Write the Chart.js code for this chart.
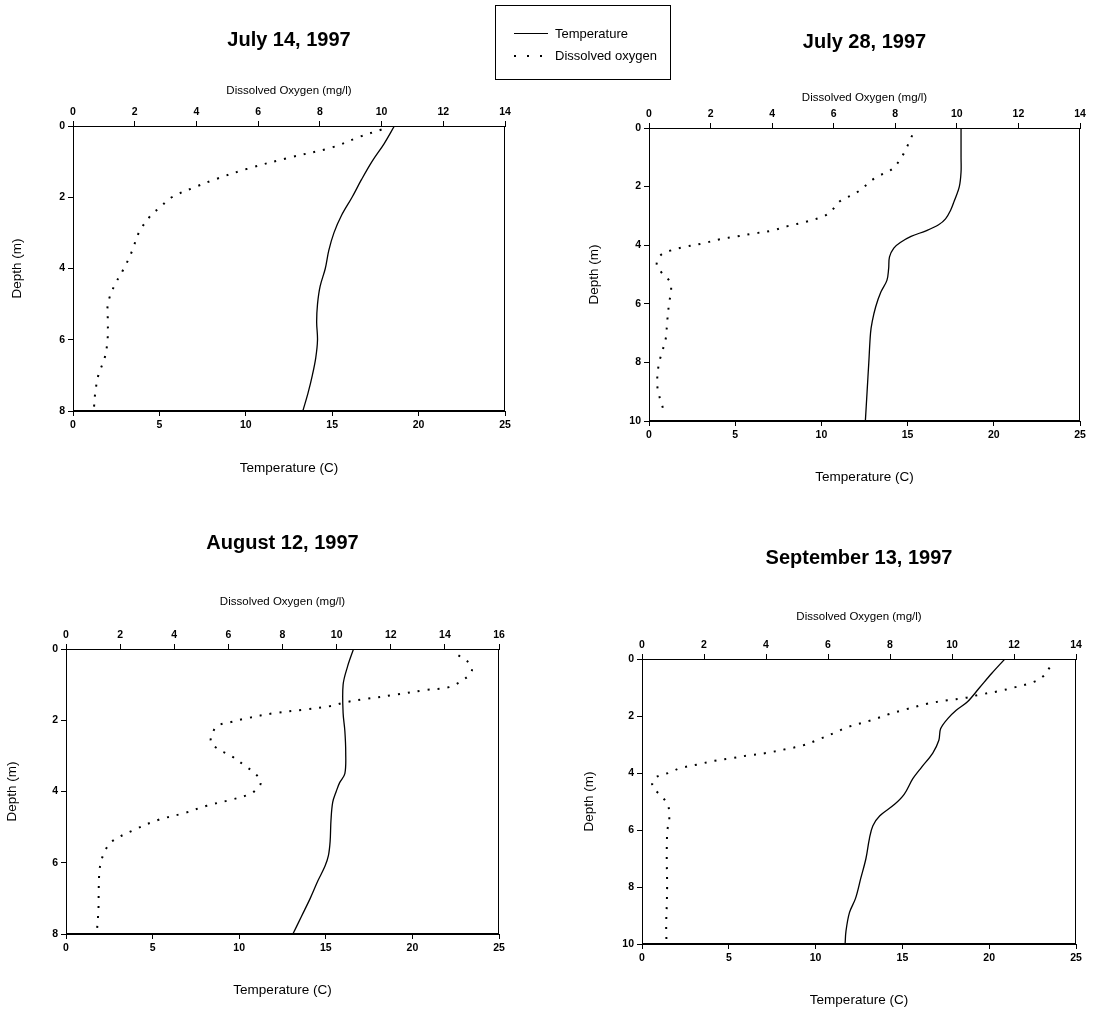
<!DOCTYPE html>
<html>
<head>
<meta charset="utf-8">
<title>Depth profiles, 1997</title>
<script src="https://cdn.jsdelivr.net/npm/chart.js@4.4.1/dist/chart.umd.min.js"></script>
<style>
  body { margin: 0; background: #fff; }
  #page { position: relative; width: 1093px; height: 1015px; overflow: hidden; font-family: "Liberation Sans", Arial, sans-serif; color: #000; }
  .panel { position: absolute; }
  #legend { position: absolute; left: 495px; top: 5px; width: 176px; height: 75px; border: 1px solid #000; box-sizing: border-box; }
  .row { position: absolute; left: 0; height: 16px; font-size: 13px; line-height: 16px; }
  .sample { position: absolute; left: 18px; top: 7px; height: 2px; }
  .solid { width: 34px; height: 1px; background: #000; }
  .dots { width: 28px; background: repeating-linear-gradient(to right, #000 0 2px, transparent 2px 13px); }
  .label { position: absolute; left: 59px; top: 0; white-space: nowrap; }
</style>
</head>
<body>
<div id="page">
  <canvas id="c1" class="panel" width="540" height="490" style="left:0px;top:0px"></canvas>
  <canvas id="c2" class="panel" width="513" height="505" style="left:580px;top:0px"></canvas>
  <canvas id="c3" class="panel" width="540" height="505" style="left:0px;top:510px"></canvas>
  <canvas id="c4" class="panel" width="518" height="495" style="left:575px;top:520px"></canvas>
  <div id="legend"></div>
</div>
<script>
// series names and axis titles
const seriesNames = ["Temperature", "Dissolved oxygen"];
const tempTitle = "Temperature (C)";
const oxyTitle = "Dissolved Oxygen (mg/l)";
const depthTitle = "Depth (m)";

// July 14, 1997
const july14TempDepth = [0, 0.5, 1, 1.5, 2, 2.5, 3, 3.5, 4, 4.5, 5, 5.5, 6, 6.5, 7, 7.5, 8];
const july14Temp = [18.6, 18.0, 17.3, 16.7, 16.15, 15.55, 15.1, 14.8, 14.6, 14.3, 14.15, 14.1, 14.15, 14.05, 13.85, 13.6, 13.3];
const july14OxyDepth = [0.1, 0.3, 0.6, 0.9, 1.2, 1.5, 1.7, 2.0, 2.3, 2.5, 3.0, 3.5, 4.0, 4.5, 5.0, 5.5, 6.0, 6.5, 7.0, 7.5, 7.9];
const july14Oxy = [10.0, 9.3, 8.4, 6.95, 5.65, 4.6, 4.0, 3.2, 2.8, 2.53, 2.13, 1.92, 1.65, 1.33, 1.13, 1.13, 1.12, 1.03, 0.82, 0.72, 0.68];

// July 28, 1997
const july28TempDepth = [0, 0.5, 1, 1.5, 2, 2.5, 2.8, 3.1, 3.3, 3.5, 3.7, 3.9, 4.1, 4.4, 4.8, 5.2, 5.6, 6.1, 6.6, 7, 8, 9, 10];
const july28Temp = [18.1, 18.1, 18.1, 18.1, 18.0, 17.7, 17.5, 17.2, 16.8, 16.1, 15.2, 14.6, 14.2, 13.95, 13.9, 13.8, 13.45, 13.15, 12.95, 12.85, 12.75, 12.65, 12.55];
const july28OxyDepth = [0.25, 0.6, 1.0, 1.4, 1.7, 2.2, 2.5, 2.8, 3.0, 3.2, 3.35, 3.5, 3.6, 3.7, 3.8, 3.95, 4.06, 4.2, 4.35, 4.65, 4.95, 5.2, 5.5, 6.0, 6.75, 7.1, 7.6, 8.0, 8.5, 8.9, 9.35, 9.7];
const july28Oxy = [8.55, 8.4, 8.2, 7.9, 7.35, 6.75, 6.2, 5.95, 5.7, 5.1, 4.5, 4.0, 3.4, 2.85, 2.3, 1.7, 1.15, 0.65, 0.37, 0.25, 0.42, 0.65, 0.72, 0.65, 0.58, 0.56, 0.44, 0.33, 0.27, 0.28, 0.39, 0.5];

// August 12, 1997
const aug12TempDepth = [0, 0.5, 1, 1.8, 2.3, 2.9, 3.5, 3.75, 4.0, 4.3, 4.8, 5.4, 5.8, 6.1, 6.5, 7.0, 7.5, 8];
const aug12Temp = [16.6, 16.25, 16.0, 16.0, 16.1, 16.15, 16.1, 15.8, 15.6, 15.4, 15.3, 15.25, 15.15, 14.95, 14.55, 14.1, 13.6, 13.1];
const aug12OxyDepth = [0.18, 0.36, 0.6, 0.83, 1.07, 1.15, 1.28, 1.4, 1.5, 1.6, 1.7, 1.8, 1.95, 2.05, 2.15, 2.3, 2.6, 2.8, 3.0, 3.3, 3.5, 3.75, 3.97, 4.1, 4.25, 4.4, 4.6, 4.8, 5.1, 5.4, 5.65, 5.9, 6.2, 6.7, 7.3, 7.85];
const aug12Oxy = [14.5, 14.85, 15.0, 14.75, 14.15, 13.3, 12.2, 11.1, 10.3, 9.8, 8.8, 7.7, 6.65, 6.1, 5.6, 5.45, 5.35, 5.6, 6.1, 6.65, 7.0, 7.2, 7.0, 6.7, 6.0, 5.2, 4.4, 3.4, 2.45, 1.7, 1.45, 1.32, 1.24, 1.21, 1.2, 1.15];

// September 13, 1997
const sep13TempDepth = [0, 0.5, 1.0, 1.5, 1.8, 2.1, 2.45, 2.85, 3.3, 3.8, 4.2, 4.75, 5.1, 5.5, 5.85, 6.3, 7.0, 7.7, 8.4, 8.9, 9.55, 10];
const sep13Temp = [20.9, 20.15, 19.45, 18.75, 18.1, 17.6, 17.2, 17.1, 16.75, 16.1, 15.6, 15.1, 14.55, 13.7, 13.3, 13.1, 12.9, 12.6, 12.3, 11.95, 11.75, 11.7];
const sep13OxyDepth = [0.3, 0.6, 0.82, 1.0, 1.13, 1.25, 1.37, 1.45, 1.57, 1.77, 1.94, 2.15, 2.4, 2.55, 2.8, 3.03, 3.16, 3.3, 3.38, 3.48, 3.57, 3.7, 3.84, 3.97, 4.15, 4.45, 4.75, 5.1, 5.65, 6.0, 6.6, 7.2, 7.9, 8.6, 9.3, 10.0];
const sep13Oxy = [13.15, 12.95, 12.6, 12.0, 11.5, 10.9, 10.4, 9.85, 9.2, 8.5, 7.95, 7.4, 6.6, 6.3, 5.75, 5.2, 4.65, 4.0, 3.45, 2.9, 2.35, 1.8, 1.2, 0.94, 0.45, 0.33, 0.56, 0.83, 0.88, 0.82, 0.8, 0.8, 0.81, 0.8, 0.78, 0.79];

// axis ranges
const tempMax = 25, tempStep = 5, oxyStep = 2, depthStep = 2;

const FONT = '"Liberation Sans", Arial, sans-serif';
Chart.defaults.font.family = FONT;
Chart.defaults.color = "#000";

const toPoints = (xs, depths) => xs.map((v, i) => ({ x: v, y: depths[i] }));

// closes the plot box on the right-hand side
const frame = {
  id: "frame",
  afterDraw(chart) {
    const { ctx, chartArea: a } = chart;
    ctx.save();
    ctx.strokeStyle = "#000";
    ctx.lineWidth = 1;
    ctx.strokeRect(Math.round(a.left) + 0.5, Math.round(a.top) + 0.5, Math.round(a.width) - 1, Math.round(a.height) - 1);
    ctx.restore();
  }
};

const tickFont = { size: 10.5, weight: "bold" };

function tickAxis(extra) {
  return Object.assign({
    type: "linear",
    grid: { display: true, drawOnChartArea: false, drawTicks: true, tickLength: 5, color: "#000", lineWidth: 1 },
    border: { display: true, color: "#000", width: 1 }
  }, extra);
}

function profile(id, p) {
  const canvas = document.getElementById(id);
  const H = canvas.height, W = canvas.width;
  const titleSize = 20, titleLh = titleSize * 1.2;
  const titleH = p.titleY + titleLh / 2;
  const oxyLh = 11.5 * 1.2, tempLh = 13.5 * 1.2, depthLh = 13.5 * 1.2;

  new Chart(canvas, {
    type: "line",
    data: {
      datasets: [
        {
          label: seriesNames[0],
          data: toPoints(p.temp, p.tempDepth),
          xAxisID: "x", yAxisID: "y",
          borderColor: "#000", borderWidth: 1.3,
          pointRadius: 0, tension: 0.35
        },
        {
          label: seriesNames[1],
          data: toPoints(p.oxy, p.oxyDepth),
          xAxisID: "x2", yAxisID: "y",
          borderColor: "#000", borderWidth: 2, borderDash: [2, 8],
          pointRadius: 0, tension: 0.35
        }
      ]
    },
    options: {
      indexAxis: "y",
      responsive: false,
      animation: false,
      events: [],
      layout: { padding: { right: W - p.plot.right } },
      plugins: {
        legend: { display: false },
        tooltip: { enabled: false },
        title: {
          display: true,
          text: p.title,
          fullSize: false,
          color: "#000",
          font: { size: titleSize, weight: "bold" },
          padding: { top: p.titleY - titleLh / 2, bottom: 0 }
        }
      },
      scales: {
        x: tickAxis({
          position: "bottom", min: 0, max: tempMax,
          ticks: { color: "#000", font: tickFont, padding: 3, stepSize: tempStep },
          title: { display: true, text: tempTitle, font: { size: 13.5 }, padding: { top: 0, bottom: H - p.tempLabelY - tempLh / 2 } },
          afterFit(s) { s.height = H - p.plot.bottom; }
        }),
        x2: tickAxis({
          position: "top", min: 0, max: p.oxyMax,
          ticks: { color: "#000", font: tickFont, padding: 3, stepSize: oxyStep },
          title: { display: true, text: oxyTitle, font: { size: 11.5 }, padding: { top: p.oxyLabelY - titleH - oxyLh / 2, bottom: 0 } },
          afterFit(s) { s.height = p.plot.top - titleH; }
        }),
        y: tickAxis({
          position: "left", reverse: true, min: 0, max: p.depthMax,
          ticks: { color: "#000", font: tickFont, padding: 3, stepSize: depthStep },
          title: { display: true, text: depthTitle, font: { size: 13.5 }, padding: { top: p.depthLabelX - depthLh / 2, bottom: 0 } },
          afterFit(s) { s.width = p.plot.left; }
        })
      }
    },
    plugins: [frame]
  });
}

profile("c1", {
  title: "July 14, 1997", oxyMax: 14, depthMax: 8,
  tempDepth: july14TempDepth, temp: july14Temp, oxyDepth: july14OxyDepth, oxy: july14Oxy,
  plot: { left: 73, top: 126, right: 505, bottom: 411 },
  titleY: 40, oxyLabelY: 91, tempLabelY: 468, depthLabelX: 17
});

profile("c2", {
  title: "July 28, 1997", oxyMax: 14, depthMax: 10,
  tempDepth: july28TempDepth, temp: july28Temp, oxyDepth: july28OxyDepth, oxy: july28Oxy,
  plot: { left: 69, top: 128, right: 500, bottom: 421 },
  titleY: 42, oxyLabelY: 98, tempLabelY: 477, depthLabelX: 14
});

profile("c3", {
  title: "August 12, 1997", oxyMax: 16, depthMax: 8,
  tempDepth: aug12TempDepth, temp: aug12Temp, oxyDepth: aug12OxyDepth, oxy: aug12Oxy,
  plot: { left: 66, top: 139, right: 499, bottom: 424 },
  titleY: 33, oxyLabelY: 92, tempLabelY: 480, depthLabelX: 12
});

profile("c4", {
  title: "September 13, 1997", oxyMax: 14, depthMax: 10,
  tempDepth: sep13TempDepth, temp: sep13Temp, oxyDepth: sep13OxyDepth, oxy: sep13Oxy,
  plot: { left: 67, top: 139, right: 501, bottom: 424 },
  titleY: 38, oxyLabelY: 97, tempLabelY: 480, depthLabelX: 14
});

// shared key for both series
const legend = document.getElementById("legend");
const sampleClass = ["solid", "dots"];
seriesNames.forEach((name, i) => {
  const row = document.createElement("div");
  row.className = "row";
  row.style.top = (20 + i * 22) + "px";
  row.style.width = "100%";
  row.innerHTML = '<span class="sample ' + sampleClass[i] + '"></span><span class="label"></span>';
  row.querySelector(".label").textContent = name;
  legend.appendChild(row);
});
</script>
</body>
</html>
